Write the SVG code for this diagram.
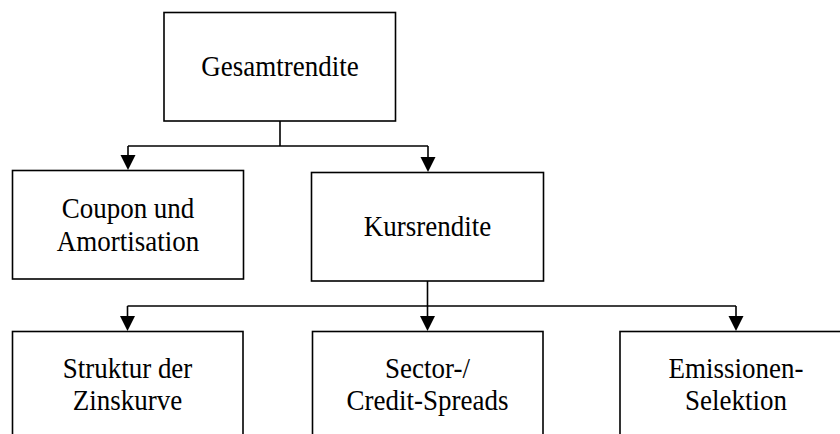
<svg xmlns="http://www.w3.org/2000/svg" width="840" height="434" viewBox="0 0 840 434">
  <style>
    .box { fill: #ffffff; stroke: #000000; stroke-width: 1.6; }
    .lbl { font-family: "Liberation Serif", "Times New Roman", serif; font-size: 27px; fill: #000000; text-anchor: middle; }
    .wire { fill: none; stroke: #000000; stroke-width: 1.6; }
    .head { fill: #000000; }
  </style>

  <rect width="840" height="434" fill="#ffffff"/>

  <g id="connectors">
    <!-- Gesamtrendite to level 2 -->
    <path class="wire" d="M280,121 V146"/>
    <path class="wire" d="M128,146 H428"/>
    <path class="wire" d="M128,146 V155"/>
    <path class="wire" d="M428,146 V157"/>
    <polygon class="head" points="120.5,155 135.5,155 128,170"/>
    <polygon class="head" points="420.5,157 435.5,157 428,172"/>
    <!-- Kursrendite to level 3 -->
    <path class="wire" d="M427.5,281 V316"/>
    <path class="wire" d="M127.5,306 H736"/>
    <path class="wire" d="M127.5,306 V316"/>
    <path class="wire" d="M736,306 V316"/>
    <polygon class="head" points="120,316 135,316 127.5,331"/>
    <polygon class="head" points="420,316 435,316 427.5,331"/>
    <polygon class="head" points="728.5,316 743.5,316 736,331"/>
  </g>

  <!-- labels are set slightly tall: scale(1,1.12) about each baseline -->
  <g id="gesamtrendite">
    <rect class="box" x="164" y="12.5" width="231.5" height="108.5"/>
    <text class="lbl" transform="translate(280,76) scale(1,1.12)">Gesamtrendite</text>
  </g>

  <g id="coupon">
    <rect class="box" x="12.5" y="170.5" width="231" height="108.5"/>
    <text class="lbl" transform="translate(128,218) scale(1,1.12)">Coupon und</text>
    <text class="lbl" transform="translate(128,250.5) scale(1,1.12)">Amortisation</text>
  </g>

  <g id="kursrendite">
    <rect class="box" x="311.5" y="172.5" width="232" height="108.5"/>
    <text class="lbl" transform="translate(427.5,236) scale(1,1.12)">Kursrendite</text>
  </g>

  <g id="zinskurve">
    <rect class="box" x="12.5" y="331.5" width="230.5" height="120"/>
    <text class="lbl" transform="translate(127.5,378) scale(1,1.12)">Struktur der</text>
    <text class="lbl" transform="translate(127.5,410) scale(1,1.12)">Zinskurve</text>
  </g>

  <g id="spreads">
    <rect class="box" x="312.5" y="331.5" width="230.5" height="120"/>
    <text class="lbl" transform="translate(427.5,378) scale(1,1.12)">Sector-/</text>
    <text class="lbl" transform="translate(427.5,410) scale(1,1.12)">Credit-Spreads</text>
  </g>

  <g id="emissionen">
    <rect class="box" x="620" y="331.5" width="232" height="120"/>
    <text class="lbl" transform="translate(736,378) scale(1,1.12)">Emissionen-</text>
    <text class="lbl" transform="translate(736,410) scale(1,1.12)">Selektion</text>
  </g>
</svg>
